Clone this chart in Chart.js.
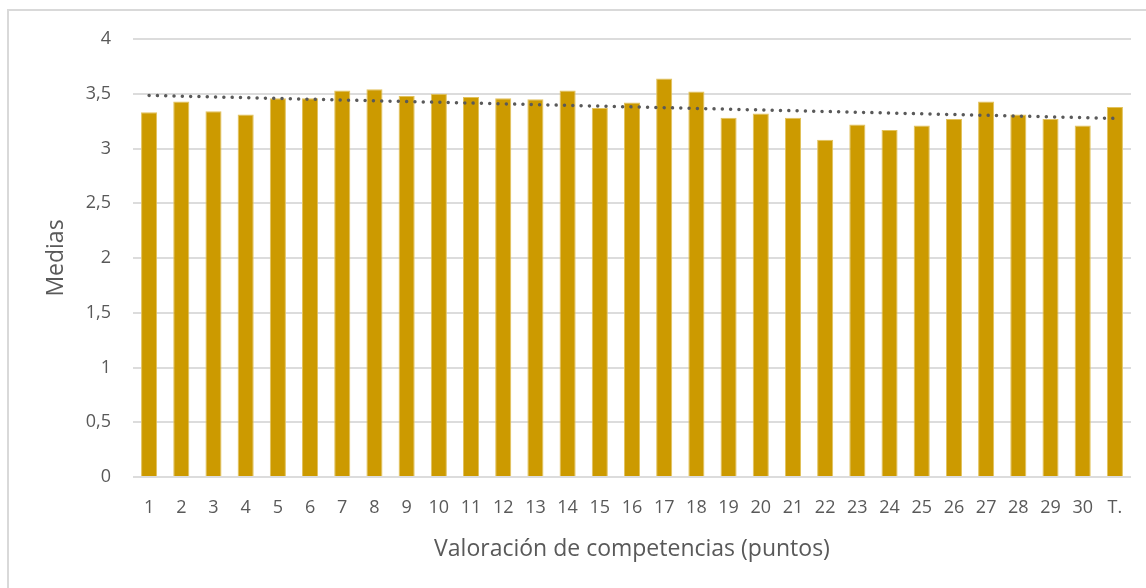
<!DOCTYPE html>
<html>
<head>
<meta charset="utf-8">
<script src="https://cdn.jsdelivr.net/npm/chart.js@4"></script>
<style>
  body { margin: 0; background: #fff; }
  #wrap { position: relative; width: 1146px; height: 588px; overflow: hidden; }
  #marco { position: absolute; left: 7px; top: 9px; width: 1150px; height: 600px;
           border-left: 2px solid #d9d9d9; border-top: 2px solid #d9d9d9; }
  canvas { position: absolute; left: 0; top: 0; }
</style>
</head>
<body>
<div id="wrap">
  <div id="marco"></div>
  <canvas id="graficoMedias" width="1146" height="588"></canvas>
</div>
<script>
// Datos
var competencias = ['1','2','3','4','5','6','7','8','9','10','11','12','13','14','15','16','17','18','19','20',
                    '21','22','23','24','25','26','27','28','29','30','T.'];
var medias = [3.33, 3.43, 3.34, 3.31, 3.46, 3.46, 3.53, 3.54, 3.48, 3.50,
              3.47, 3.46, 3.45, 3.53, 3.37, 3.42, 3.64, 3.52, 3.28, 3.32,
              3.28, 3.08, 3.22, 3.17, 3.21, 3.27, 3.43, 3.31, 3.27, 3.21, 3.38];
// Línea de tendencia: extremos
var tendenciaInicio = 3.485;
var tendenciaFin = 3.275;
var ticksY = [0, 0.5, 1, 1.5, 2, 2.5, 3, 3.5, 4];

var tendencia = competencias.map(function (c, i) {
    if (i === 0) return tendenciaInicio;
    if (i === competencias.length - 1) return tendenciaFin;
    return null;
});

var gris = '#595959';
var fuente = '"Open Sans", Lato, sans-serif';

var ctx = document.getElementById('graficoMedias').getContext('2d');
var grafico = new Chart(ctx, {
    type: 'bar',
    data: {
        labels: competencias,
        datasets: [{
            type: 'line',
            data: tendencia,
            spanGaps: true,
            borderColor: gris,
            borderWidth: 3.5,
            borderDash: [0.01, 8.3],
            borderCapStyle: 'round',
            pointRadius: 0,
            fill: false,
            order: 0
        }, {
            data: medias,
            backgroundColor: '#cc9a00',
            borderColor: '#e2c25c',
            borderWidth: 1,
            barPercentage: 0.5,
            categoryPercentage: 1,
            order: 1
        }]
    },
    options: {
        responsive: false,
        animation: false,
        layout: { padding: { top: 39, right: 15, left: 0, bottom: 0 } },
        plugins: {
            legend: { display: false },
            tooltip: { enabled: false }
        },
        scales: {
            x: {
                grid: { display: false, drawTicks: false },
                border: { display: false },
                ticks: {
                    color: gris,
                    font: { family: fuente, size: 18 },
                    padding: 20,
                    maxRotation: 0,
                    autoSkip: false
                },
                title: {
                    display: true,
                    text: 'Valoración de competencias (puntos)',
                    color: gris,
                    font: { family: fuente, size: 23 },
                    padding: { top: 4, bottom: 25 }
                },
                afterFit: function (scale) { scale.height = 111; }
            },
            y: {
                min: 0,
                max: 4,
                afterBuildTicks: function (scale) {
                    scale.ticks = ticksY.map(function (v) { return { value: v }; });
                },
                grid: { color: '#dcdcdc', lineWidth: 2, drawTicks: false },
                border: { display: false },
                ticks: {
                    color: gris,
                    font: { family: fuente, size: 18 },
                    padding: 22,
                    callback: function (v) { return String(v).replace('.', ','); }
                },
                title: {
                    display: true,
                    text: 'Medias',
                    color: gris,
                    font: { family: fuente, size: 23 },
                    padding: { top: 43 }
                },
                afterFit: function (scale) { scale.width = 133; }
            }
        }
    }
});
</script>
</body>
</html>
